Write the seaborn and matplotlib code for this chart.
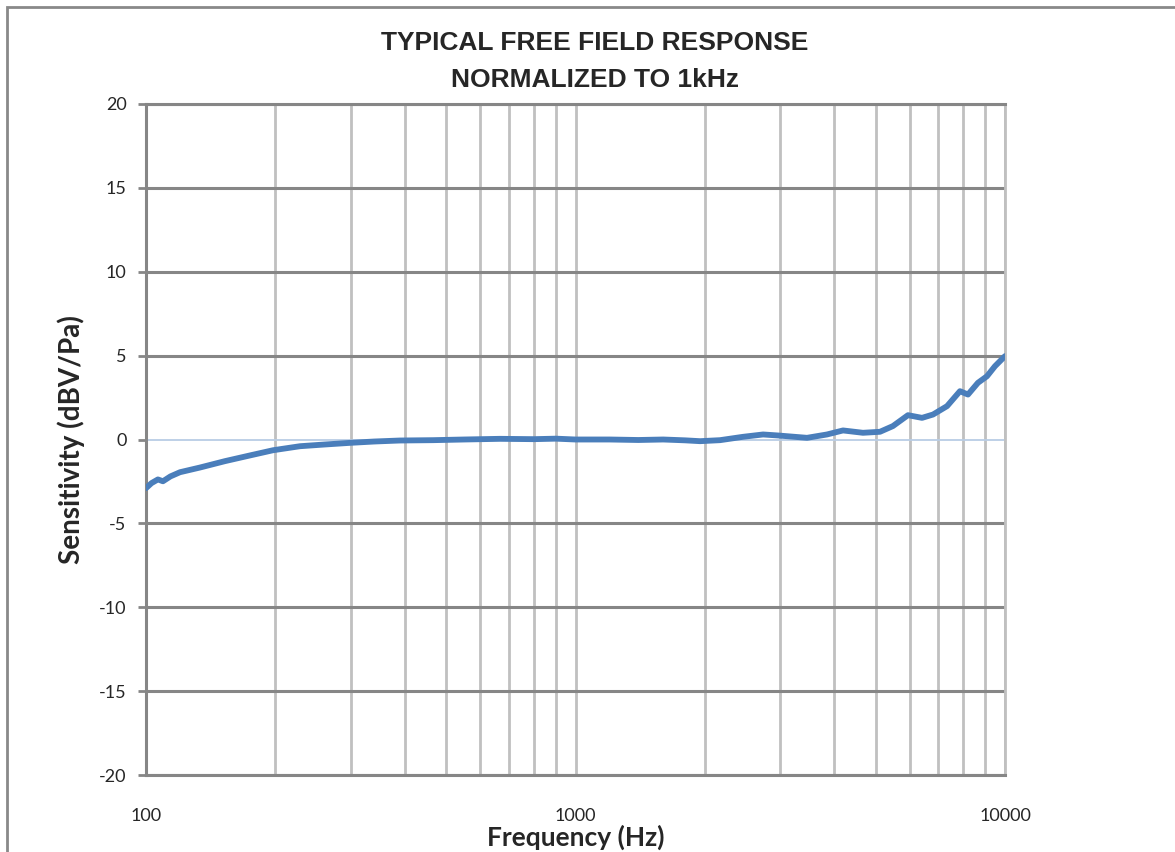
import matplotlib
matplotlib.use("Agg")
import matplotlib.pyplot as plt
import matplotlib.ticker as mticker
import seaborn as sns
import pandas as pd

# frequency response
freq_hz = [100, 103, 106.6, 109.5, 114, 120, 133.6, 152.7, 174.6, 197.6, 228.4,
           260, 298.5, 340, 390, 466, 550, 667, 800, 900, 1000, 1200, 1400,
           1600, 1800, 1950, 2170, 2455, 2734, 2961, 3460, 3851, 4196, 4670,
           5116, 5483, 5944, 6410, 6800, 7330, 7855, 8200, 8650, 9078, 9477, 10000]
sens_db = [-2.9, -2.6, -2.38, -2.49, -2.2, -1.95, -1.67, -1.29, -0.95, -0.64, -0.40,
           -0.30, -0.20, -0.12, -0.06, -0.04, 0.0, 0.04, 0.02, 0.05, 0.0, 0.0, -0.03,
           0.0, -0.05, -0.1, -0.04, 0.16, 0.30, 0.24, 0.10, 0.30, 0.54, 0.40,
           0.46, 0.80, 1.45, 1.29, 1.49, 1.99, 2.88, 2.68, 3.38, 3.77, 4.37, 4.97]

y_ticks = [-20, -15, -10, -5, 0, 5, 10, 15, 20]
x_ticks = [100, 1000, 10000]

df = pd.DataFrame({"Frequency": freq_hz, "Sensitivity": sens_db})

sns.set_style("white")
plt.rcParams['font.family'] = ['Lato', 'DejaVu Sans']

fig = plt.figure(figsize=(11.75, 8.52), dpi=100)
ax = fig.add_axes([146 / 1175, 77 / 852, 859 / 1175, 671 / 852])

ax.axhline(0, color='#b9cde5', linewidth=1.3, zorder=2)
sns.lineplot(data=df, x="Frequency", y="Sensitivity", ax=ax, color='#4a7ebb',
             linewidth=4.2, zorder=3)

ax.set_xscale('log')
ax.set_xlim(100, 10000)
ax.set_ylim(-20, 20)
ax.set_yticks(y_ticks)
ax.set_yticklabels([str(v) for v in y_ticks])
ax.xaxis.set_major_locator(mticker.FixedLocator(x_ticks))
ax.xaxis.set_major_formatter(mticker.FixedFormatter([str(v) for v in x_ticks]))
ax.xaxis.set_minor_locator(mticker.LogLocator(base=10, subs=range(2, 10)))
ax.xaxis.set_minor_formatter(mticker.NullFormatter())

ax.grid(axis='y', which='major', color='#868686', linewidth=2.2)
ax.grid(axis='x', which='both', color='#c0c0c0', linewidth=2.0)
# y grid at 0 is replaced by the light blue line
for gl, v in zip(ax.yaxis.get_gridlines(), y_ticks):
    if v == 0:
        gl.set_visible(False)

ax.tick_params(axis='y', length=6, width=2, color='#868686', direction='out',
               labelsize=13, pad=8, left=True)
ax.tick_params(axis='x', which='both', length=0, labelsize=13, pad=24)

for side in ['left', 'bottom', 'top']:
    ax.spines[side].set_color('#868686')
    ax.spines[side].set_linewidth(2.2)
ax.spines['right'].set_color('#c0c0c0')
ax.spines['right'].set_linewidth(2.0)

ax.set_xlabel('Frequency (Hz)', fontsize=19, fontweight='bold', labelpad=0)
ax.set_ylabel('Sensitivity (dBV/Pa)', fontsize=20, fontweight='bold', labelpad=10)

fig.text(595 / 1175, 1 - 43 / 852, 'TYPICAL FREE FIELD RESPONSE', ha='center', va='center',
         fontsize=19, fontweight='bold', family=['Liberation Sans', 'DejaVu Sans'])
fig.text(595 / 1175, 1 - 80 / 852, 'NORMALIZED TO 1kHz', ha='center', va='center',
         fontsize=19, fontweight='bold', family=['Liberation Sans', 'DejaVu Sans'])

fig.add_artist(plt.Rectangle((7 / 1175, -0.1), 1.2, 1.1 - 7 / 852, transform=fig.transFigure,
                             fill=False, edgecolor='#898989', linewidth=2))

fig.savefig('out.png', dpi=100)
